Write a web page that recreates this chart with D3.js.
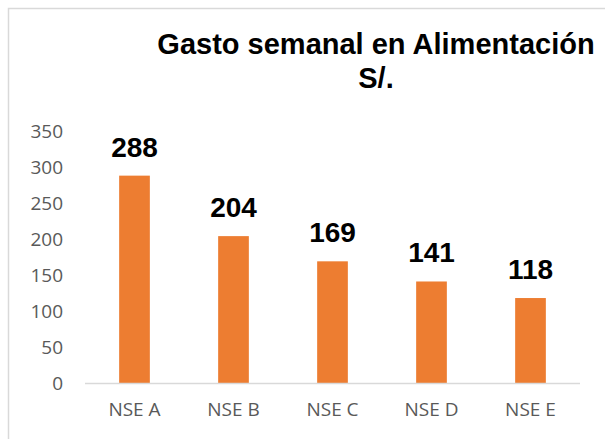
<!DOCTYPE html>
<html>
<head>
<meta charset="utf-8">
<script src="https://cdn.jsdelivr.net/npm/d3@7"></script>
<style>
  body { margin: 0; background: #fff; }
  svg { display: block; }
</style>
</head>
<body>
<div id="chart"></div>
<script>
var categories = ["NSE A", "NSE B", "NSE C", "NSE D", "NSE E"];
var values = [288, 204, 169, 141, 118];
var yTicks = [0, 50, 100, 150, 200, 250, 300, 350];
var titleLines = ["Gasto semanal en Alimentación", "S/."];

var width = 605;
var height = 439;
var svg = d3.select("#chart")
            .append("svg")
            .attr("width", width)
            .attr("height", height);

// marco del grafico (solo se ve arriba e izquierda)
svg.append("rect")
    .attr("x", 8.5)
    .attr("y", 8.5)
    .attr("width", width + 20)
    .attr("height", height + 20)
    .attr("fill", "none")
    .attr("stroke", "#d9d9d9")
    .attr("stroke-width", 1.5);

var plotLeft = 85, plotRight = 580, plotTop = 131, plotBottom = 383;

var x = d3.scaleBand()
          .domain(categories)
          .range([plotLeft, plotRight])
          .paddingInner(0.69)
          .paddingOuter(0.345);

var y = d3.scaleLinear()
          .domain([0, 350])
          .range([plotBottom, plotTop]);

// titulo
svg.append("text")
    .attr("x", 376)
    .attr("y", 54)
    .attr("text-anchor", "middle")
    .style("font-family", "'Liberation Sans', Arial, sans-serif")
    .style("font-weight", "bold")
    .style("font-size", "29px")
    .selectAll("tspan")
    .data(titleLines)
    .enter()
    .append("tspan")
    .attr("x", 376)
    .attr("dy", function(d, i){ return i == 0 ? 0 : 34; })
    .text(function(d){ return d; });

// eje y (solo etiquetas)
var yAxis = svg.append("g")
    .attr("transform", "translate(" + (plotLeft - 22) + ",0)")
    .call(d3.axisLeft(y).tickValues(yTicks).tickSize(0).tickPadding(0));
yAxis.select(".domain").remove();
yAxis.selectAll("text")
    .attr("dy", "0.36em")
    .style("font-family", "'Open Sans', sans-serif")
    .style("font-size", "19px")
    .attr("fill", "#595959");

// eje x
var xAxis = svg.append("g")
    .attr("transform", "translate(0," + plotBottom + ")")
    .call(d3.axisBottom(x).tickSize(0).tickPadding(20));
xAxis.select(".domain").remove();
xAxis.selectAll("text")
    .style("font-family", "'Open Sans', sans-serif")
    .style("font-size", "19px")
    .attr("fill", "#595959");

// barras
svg.selectAll("rect.bar")
    .data(values)
    .enter()
    .append("rect")
    .attr("class", "bar")
    .attr("x", function(d, i){ return x(categories[i]); })
    .attr("y", function(d){ return y(d); })
    .attr("width", x.bandwidth())
    .attr("height", function(d){ return plotBottom - y(d); })
    .attr("fill", "#ed7d31");

// etiquetas de datos
svg.selectAll("text.lbl")
    .data(values)
    .enter()
    .append("text")
    .attr("class", "lbl")
    .attr("x", function(d, i){ return x(categories[i]) + x.bandwidth() / 2; })
    .attr("y", function(d){ return y(d) - 19; })
    .attr("text-anchor", "middle")
    .style("font-family", "'Liberation Sans', Arial, sans-serif")
    .style("font-weight", "bold")
    .style("font-size", "28px")
    .attr("fill", "#000")
    .text(function(d){ return d; });

// linea base encima de las barras
svg.append("line")
    .attr("x1", plotLeft).attr("x2", plotRight)
    .attr("y1", plotBottom + 0.5).attr("y2", plotBottom + 0.5)
    .attr("stroke", "#d9d9d9")
    .attr("stroke-width", 1.5);
</script>
</body>
</html>
